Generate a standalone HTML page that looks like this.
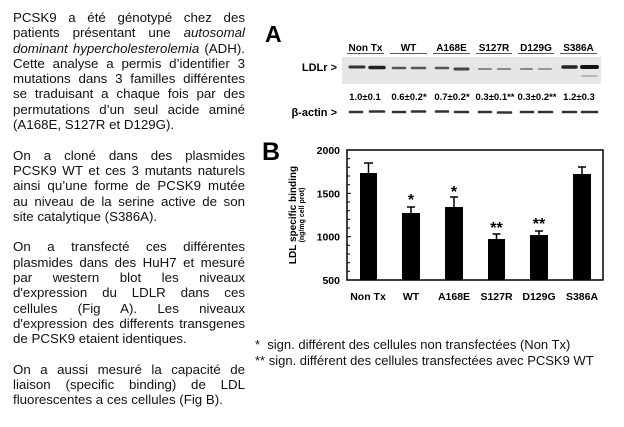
<!DOCTYPE html>
<html><head><meta charset="utf-8"><style>
body{margin:0;background:#fff;width:624px;height:427px;overflow:hidden;position:relative;font-family:"Liberation Sans",Arial,sans-serif;}
.txt{position:absolute;left:13px;top:10px;width:232px;font-size:13.3px;line-height:15.3px;color:#111;}
.txt div{text-align:justify;text-align-last:justify;white-space:nowrap;}
.txt div.l{text-align-last:left;}
.txt div.b{height:15.3px;}
.fn{position:absolute;left:255px;font-size:13px;color:#111;white-space:nowrap;}
</style></head><body>
<div class="txt">
<div>PCSK9 a été génotypé chez des</div>
<div>patients présentant une <i>autosomal</i></div>
<div><i>dominant hypercholesterolemia</i> (ADH).</div>
<div>Cette analyse a permis d’identifier 3</div>
<div>mutations dans 3 familles différentes</div>
<div>se traduisant a chaque fois par des</div>
<div>permutations d’un seul acide aminé</div>
<div class="l">(A168E, S127R et D129G).</div>
<div class="b"></div>
<div>On a cloné dans des plasmides</div>
<div>PCSK9 WT et ces 3 mutants naturels</div>
<div>ainsi qu’une forme de PCSK9 mutée</div>
<div>au niveau de la serine active de son</div>
<div class="l">site catalytique (S386A).</div>
<div class="b"></div>
<div>On a transfecté ces différentes</div>
<div>plasmides dans des HuH7 et mesuré</div>
<div>par western blot les niveaux</div>
<div>d'expression du LDLR dans ces</div>
<div>cellules (Fig A). Les niveaux</div>
<div>d'expression des differents transgenes</div>
<div class="l">de PCSK9 etaient identiques.</div>
<div class="b"></div>
<div>On a aussi mesuré la capacité de</div>
<div>liaison (specific binding) de LDL</div>
<div class="l">fluorescentes a ces cellules (Fig B).</div>
</div>
<div class="fn" style="top:337px">*&nbsp;&nbsp;sign. différent des cellules non transfectées (Non Tx)</div>
<div class="fn" style="top:353px">** sign. différent des cellules transfectées avec PCSK9 WT</div>
<svg style="position:absolute;left:0;top:0" width="624" height="427" font-family="Liberation Sans, Arial, sans-serif">
<text x="265" y="42" font-size="23" font-weight="bold">A</text>
<g font-size="10" font-weight="bold" text-anchor="middle">
<text x="365.5" y="51">Non Tx</text><text x="408.5" y="51">WT</text><text x="451.5" y="51">A168E</text>
<text x="494" y="51">S127R</text><text x="536" y="51">D129G</text><text x="578.5" y="51">S386A</text>
</g>
<g stroke="#222" stroke-width="0.8">
<line x1="347" y1="53.5" x2="384" y2="53.5"/><line x1="390" y1="53.5" x2="427" y2="53.5"/><line x1="433" y1="53.5" x2="470" y2="53.5"/>
<line x1="476" y1="53.5" x2="512" y2="53.5"/><line x1="518" y1="53.5" x2="554" y2="53.5"/><line x1="560" y1="53.5" x2="597" y2="53.5"/>
</g>
<rect x="342" y="57" width="259" height="27" fill="#e6e6e6"/>
<g stroke-linecap="round">
<line x1="350" y1="67" x2="364" y2="67" stroke="#333" stroke-width="3"/>
<line x1="370" y1="67.5" x2="384" y2="67.5" stroke="#222" stroke-width="3.5"/>
<line x1="393" y1="68" x2="405" y2="68" stroke="#555" stroke-width="2.5"/>
<line x1="412" y1="68" x2="425" y2="68" stroke="#555" stroke-width="2.5"/>
<line x1="436" y1="68" x2="448" y2="68" stroke="#555" stroke-width="2.5"/>
<line x1="455" y1="69" x2="468" y2="69" stroke="#444" stroke-width="3"/>
<line x1="479" y1="69" x2="491" y2="69" stroke="#888" stroke-width="2"/>
<line x1="498" y1="69" x2="510" y2="69" stroke="#888" stroke-width="2"/>
<line x1="521" y1="69" x2="532" y2="69" stroke="#888" stroke-width="2"/>
<line x1="539" y1="69" x2="551" y2="69" stroke="#999" stroke-width="2"/>
<line x1="563" y1="67" x2="576" y2="67" stroke="#222" stroke-width="3.5"/>
<line x1="582" y1="67" x2="597" y2="67" stroke="#111" stroke-width="4"/>
<line x1="582" y1="76" x2="597" y2="76" stroke="#aaa" stroke-width="1.5"/>
</g>
<text x="337" y="71" font-size="11" font-weight="bold" text-anchor="end">LDLr &gt;</text>
<g font-size="9.5" font-weight="bold" text-anchor="middle">
<text x="365" y="100">1.0±0.1</text><text x="409" y="100">0.6±0.2*</text><text x="452" y="100">0.7±0.2*</text>
<text x="495" y="100">0.3±0.1**</text><text x="537" y="100">0.3±0.2**</text><text x="579" y="100">1.2±0.3</text>
</g>
<text x="337" y="116" font-size="11" font-weight="bold" text-anchor="end">β-actin &gt;</text>
<g stroke="#333" stroke-width="2.6" stroke-linecap="round">
<line x1="350" y1="112" x2="362" y2="112"/><line x1="370" y1="111.5" x2="384" y2="111.5"/>
<line x1="393" y1="112" x2="405" y2="112"/><line x1="412" y1="111.5" x2="425" y2="111.5"/>
<line x1="436" y1="111.5" x2="448" y2="111.5"/><line x1="455" y1="112" x2="468" y2="112"/>
<line x1="479" y1="112" x2="491" y2="112"/><line x1="498" y1="112.5" x2="511" y2="112.5"/>
<line x1="521" y1="112" x2="533" y2="112"/><line x1="539" y1="112" x2="552" y2="112"/>
<line x1="563" y1="112" x2="576" y2="112"/><line x1="582" y1="112" x2="597" y2="112"/>
</g>
<text x="262" y="160" font-size="25" font-weight="bold">B</text>
<rect x="347" y="150" width="256" height="130" fill="none" stroke="#000" stroke-width="1.5"/>
<g stroke="#000" stroke-width="1">
<line x1="347" y1="158.7" x2="350" y2="158.7"/><line x1="347" y1="167.3" x2="350" y2="167.3"/><line x1="347" y1="176" x2="350" y2="176"/><line x1="347" y1="184.7" x2="350" y2="184.7"/>
<line x1="347" y1="193.3" x2="351" y2="193.3"/><line x1="347" y1="202" x2="350" y2="202"/><line x1="347" y1="210.7" x2="350" y2="210.7"/><line x1="347" y1="219.3" x2="350" y2="219.3"/><line x1="347" y1="228" x2="350" y2="228"/>
<line x1="347" y1="236.7" x2="351" y2="236.7"/><line x1="347" y1="245.3" x2="350" y2="245.3"/><line x1="347" y1="254" x2="350" y2="254"/><line x1="347" y1="262.7" x2="350" y2="262.7"/><line x1="347" y1="271.3" x2="350" y2="271.3"/>
</g>
<g font-size="10.5" font-weight="bold" text-anchor="end">
<text x="340" y="154">2000</text><text x="340" y="197.5">1500</text><text x="340" y="240.5">1000</text><text x="340" y="284">500</text>
</g>
<text transform="translate(296,215) rotate(-90)" font-size="10" font-weight="bold" text-anchor="middle">LDL specific binding</text>
<text transform="translate(304,215) rotate(-90)" font-size="7" font-weight="bold" text-anchor="middle">(ng/mg cell prot)</text>
<g fill="#000">
<rect x="360" y="173" width="17" height="107"/><rect x="402" y="213" width="18" height="67"/><rect x="445" y="207" width="18" height="73"/>
<rect x="488" y="239" width="17" height="41"/><rect x="530" y="235" width="18" height="45"/><rect x="573" y="174" width="18" height="106"/>
</g>
<g stroke="#000" stroke-width="1.5">
<line x1="368.5" y1="163" x2="368.5" y2="173"/><line x1="364" y1="163" x2="373" y2="163"/>
<line x1="411" y1="207" x2="411" y2="213"/><line x1="407" y1="207" x2="415" y2="207"/>
<line x1="454" y1="197" x2="454" y2="207"/><line x1="450" y1="197" x2="458" y2="197"/>
<line x1="496.5" y1="234" x2="496.5" y2="239"/><line x1="492.5" y1="234" x2="500.5" y2="234"/>
<line x1="539" y1="231" x2="539" y2="235"/><line x1="535" y1="231" x2="543" y2="231"/>
<line x1="582" y1="167" x2="582" y2="174"/><line x1="578" y1="167" x2="586" y2="167"/>
</g>
<g font-size="16" font-weight="bold" text-anchor="middle">
<text x="411" y="205">*</text><text x="454" y="197">*</text><text x="496.5" y="233">**</text><text x="539" y="229">**</text>
</g>
<g font-size="10.5" font-weight="bold" text-anchor="middle">
<text x="368" y="300">Non Tx</text><text x="411" y="300">WT</text><text x="454" y="300">A168E</text>
<text x="496.5" y="300">S127R</text><text x="539" y="300">D129G</text><text x="582" y="300">S386A</text>
</g>
</svg>
</body></html>
